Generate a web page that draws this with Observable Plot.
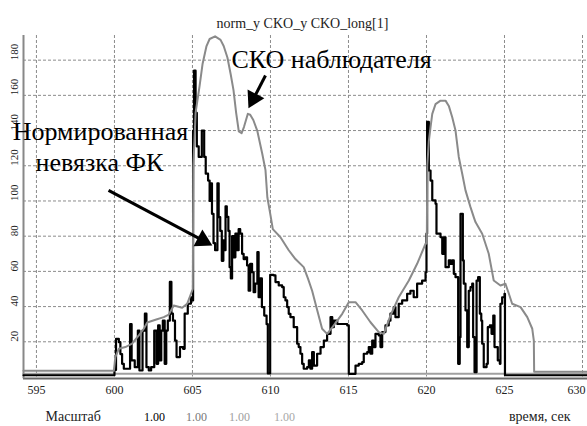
<!DOCTYPE html>
<html><head><meta charset="utf-8">
<script src="https://cdn.jsdelivr.net/npm/d3@7"></script>
<script src="https://cdn.jsdelivr.net/npm/@observablehq/plot@0.6"></script>
<style>body{margin:0;background:#fff} svg{display:block}</style>
</head><body><div id="chart"></div>
<script>
// ---- data (time in seconds, values) ----
const normT = [594.17,599.98,600.0,600.1,600.28,600.38,600.49,600.6,601.0,601.1,601.3,601.5,601.6,601.8,601.95,602.05,602.2,602.35,602.55,602.7,602.8,602.9,603.0,603.1,603.22,603.32,603.42,603.55,603.65,603.75,603.88,603.98,604.2,604.4,604.5,604.7,604.9,605.0,
605.04,605.1,605.2,605.28,605.4,605.6,605.75,605.85,606.0,606.1,606.15,606.25,606.35,606.45,606.6,606.68,606.78,606.88,606.98,607.05,607.12,607.2,607.3,607.38,607.46,607.54,607.65,607.75,607.86,607.96,608.06,608.18,608.28,608.4,608.5,608.6,608.7,608.82,608.92,609.02,609.16,609.24,609.34,609.45,609.6,609.75,609.83,609.98,
610.2,610.32,610.53,610.75,610.85,610.96,611.07,611.17,611.28,611.49,611.71,611.81,611.92,612.03,612.13,612.35,612.46,612.56,612.67,612.78,612.99,613.21,613.42,613.63,613.85,613.96,614.06,614.28,614.49,614.92,615.02,615.45,615.66,615.88,615.98,616.2,616.3,616.41,616.52,616.62,616.73,616.94,617.05,617.16,617.37,617.58,617.69,617.9,618.01,618.22,618.44,618.76,618.97,619.18,619.4,619.72,619.94,
620.0,620.04,620.15,620.26,620.37,620.58,620.64,620.9,621.01,621.11,621.22,621.43,621.54,621.65,621.75,621.86,622.03,622.13,622.18,622.33,622.39,622.5,622.61,622.71,622.82,622.93,622.99,623.08,623.21,623.31,623.42,623.51,623.57,623.67,623.85,623.93,624.06,624.17,624.28,624.36,624.57,624.7,624.74,624.85,625.0,625.03,630.32];
const normV = [1,1,4,21.7,19.8,13,7.5,4.7,30,9.4,5.6,26.4,3.7,26.4,36,5.6,3.7,5.6,26.4,7.5,29.3,9.4,26.4,32,7.5,26.4,32,54,36,32,20.7,11.3,17,16,36,41.6,45.3,43.5,
140,174,150,131,125,140,125,115.5,111.6,100,110,92.7,76,72,110,90.8,83,66,77.6,72,97,91,83,62.4,56,80,68,81.4,72,84,81.4,70,67,68,63.4,49,64.3,59.5,48.2,53,70.9,45.3,56,39.7,34.9,30,2,58,
57.7,53.9,52,51,45.3,43.5,39.7,35.9,34,28.3,18.9,17,13.2,7.5,4.7,5.6,9.4,4.7,14.1,6.5,13.2,17,20.7,24.5,34,28.3,32,30.1,30.1,29.3,1.8,6.5,7.5,8.4,13.2,14.1,17,13.2,20.7,17,24.5,23.6,17,25.5,29.3,32,36,39.7,34,41.6,43.5,47.3,49,45.3,53,54.8,59.5,
81.4,145,117.3,111.6,100.3,98.4,81.4,79.4,70,79.4,62.4,66.2,64.3,66.2,58.6,56.7,7.5,22.6,92.7,66.2,53,37.8,17,49,51,53,22.6,2.7,54.8,56.7,36,32,18.9,5.6,7.5,28.3,29.3,24.5,34.9,17,9.4,7.5,41.6,45.3,47.3,1,1];

const ckoT = [594.17,599.96,600.06,600.28,600.7,601.13,601.56,601.88,602.1,602.63,603.16,603.48,603.8,604.34,604.66,605.02,605.06,605.2,605.45,605.65,605.9,606.1,606.45,606.8,607.0,607.24,607.45,607.63,607.8,607.97,608.15,608.3,608.55,608.7,608.9,609.15,609.47,609.68,609.8,610.0,610.15,610.64,611.17,611.6,612.13,612.4,612.67,613.0,613.31,613.63,614.06,614.6,615.02,615.45,615.88,616.41,616.94,617.26,617.69,618.22,618.87,619.4,619.94,620.02,620.05,620.15,620.26,620.37,620.58,620.9,621.22,621.43,621.65,621.86,622.07,622.29,622.5,622.82,623.03,623.14,623.57,623.99,624.31,624.74,625.06,625.28,625.49,626.03,626.46,626.78,626.88,626.9,630.32];
const ckoV = [3.5,3.5,11.3,16,17,18.9,23.6,27.4,31,32.5,34,35.5,40.6,39.3,41.6,50,120,150,165,178,188,192,193.5,191.5,188,181.5,172,163,150,139.5,138.5,142,149.5,149,146,140,127,117.5,102,92,84,79.4,72,67,62.4,56,49,37.8,27.4,24.5,29.3,35.9,42.5,42.5,37.8,31.1,25.5,24.5,34.9,45.3,54.8,64.3,75.7,76,120,134,142,149.5,155,157,157,154,147.6,140,125,115.5,106,96.5,90.8,88,81.4,70,54.8,52,53,47.3,41.6,39.7,34,27.4,20.7,3,3];

const longT = [594.17, 630.32];
const longV = [1.8, 1.8];

const xTicks = [595, 600, 605, 610, 615, 620, 625, 630];
const yTicks = [20, 40, 60, 80, 100, 120, 140, 160, 180];
const titleText = "norm_y CKO_y CKO_long[1]";
const scaleLabel = "Масштаб";
const scaleValues = ["1.00", "1.00", "1.00", "1.00"];
const timeLabel = "время, сек";
const annoLabels = ["СКО наблюдателя", "Нормированная", "невязка ФК"];

// ---- layout / annotation positions (data units) ----
const annoPos = [
  {x: 607.5, y: 175.3},
  {x: 599.1, y: 134.9},
  {x: 599.04, y: 117.3}
];
const arrows = [
  {x1: 609.68, y1: 171.3, x2: 608.91, y2: 158.1, angle: 207.3},
  {x1: 599.62, y1: 106.0, x2: 605.66, y2: 77.6, angle: 117.9}
];
const scaleX = [602.56, 605.26, 608.01, 610.9];
const scaleColors = ["#000", "#777", "#a0a0a0", "#a8a8a8"];

const norm = normT.map((t, i) => ({t, v: normV[i]}));
const cko = ckoT.map((t, i) => ({t, v: ckoV[i]}));
const lng = longT.map((t, i) => ({t, v: longV[i]}));
const annos = annoLabels.map((s, i) => ({s, ...annoPos[i]}));
const scaleRow = scaleValues.map((s, i) => ({s, x: scaleX[i], c: scaleColors[i]}));

const F = "'Liberation Serif', 'DejaVu Serif', serif";
const grid = "#8c8c8c";
const xIn = xTicks.filter(d => d < 630), xEdge = xTicks.filter(d => d >= 630);

const chart = Plot.plot({
  width: 587, height: 426,
  marginLeft: 23, marginRight: 0, marginTop: 35, marginBottom: 49.5,
  x: {domain: [594.17, 630.32], axis: null},
  y: {domain: [0, 194], axis: null},
  style: {background: "#fff"},
  marks: [
    Plot.ruleX(xTicks, {stroke: grid, strokeDasharray: "3,2", strokeWidth: 1}),
    Plot.ruleY(yTicks, {stroke: grid, strokeDasharray: "3,2", strokeWidth: 1}),
    Plot.line(lng, {x: "t", y: "v", stroke: "#a0a0a0", strokeWidth: 2}),
    Plot.ruleY([0], {stroke: "#666", strokeWidth: 2, dy: 1.5}),
    Plot.ruleX([594.17], {stroke: "#888", strokeWidth: 2, y1: -1, y2: 194}),
    Plot.line(norm, {x: "t", y: "v", curve: "step-after", stroke: "#000", strokeWidth: 2.2}),
    Plot.line(cko, {x: "t", y: "v", stroke: "#8a8a8a", strokeWidth: 2}),
    Plot.text(yTicks, {y: d => d, text: d => String(d), frameAnchor: "left", dx: -9.5, rotate: -90, fontSize: 11, fontFamily: F, fill: "#222"}),
    Plot.text(xIn, {x: d => d, text: d => String(d), frameAnchor: "bottom", dy: 16.5, fontSize: 12, fontFamily: F, fill: "#222"}),
    Plot.text(xEdge, {x: d => d, text: d => String(d), frameAnchor: "bottom", dy: 16.5, textAnchor: "end", dx: 3, fontSize: 12, fontFamily: F, fill: "#222"}),
    Plot.text([titleText], {text: d => d, frameAnchor: "top", dx: -3, dy: -8, lineAnchor: "bottom", fontSize: 14, fontFamily: F, fill: "#222"}),
    Plot.text(annos.slice(0, 1), {x: "x", y: "y", text: "s", textAnchor: "start", lineAnchor: "bottom", fontSize: 26, fontFamily: F, fill: "#000"}),
    Plot.text(annos.slice(1), {x: "x", y: "y", text: "s", textAnchor: "middle", lineAnchor: "bottom", fontSize: 26, fontFamily: F, fill: "#000"}),
    Plot.link(arrows, {x1: "x1", y1: "y1", x2: "x2", y2: "y2", stroke: "#000", strokeWidth: 3}),
    Plot.dot(arrows, {x: "x2", y: "y2", symbol: "triangle", r: 7, rotate: "angle", fill: "#000", stroke: null}),
    Plot.text([scaleLabel], {text: d => d, frameAnchor: "bottom-left", dx: 22, dy: 43.5, lineAnchor: "bottom", textAnchor: "start", fontSize: 14, fontFamily: F, fill: "#222"}),
    Plot.text(scaleRow, {x: "x", text: "s", fill: "c", frameAnchor: "bottom", dy: 43.5, lineAnchor: "bottom", fontSize: 12, fontFamily: F}),
    Plot.text([timeLabel], {text: d => d, frameAnchor: "bottom-right", dx: -17, dy: 43.5, lineAnchor: "bottom", textAnchor: "end", fontSize: 14, fontFamily: F, fill: "#222"})
  ]
});
document.getElementById("chart").appendChild(chart);
</script>
</body></html>
